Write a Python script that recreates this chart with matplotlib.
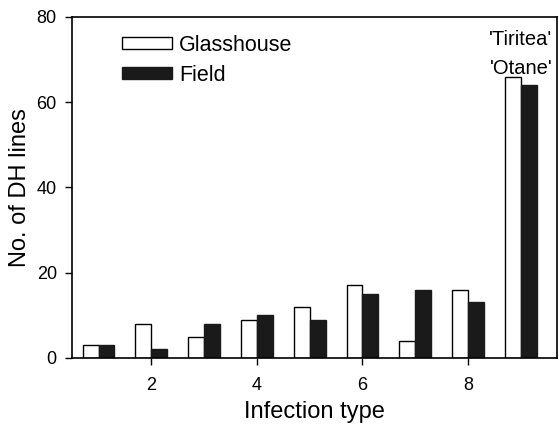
import matplotlib
matplotlib.use("Agg")
import matplotlib.pyplot as plt
import numpy as np

plt.rcParams["font.family"] = ["Liberation Sans", "DejaVu Sans"]

infection_type = [1, 2, 3, 4, 5, 6, 7, 8, 9]
glasshouse = [3, 8, 5, 9, 12, 17, 4, 16, 66]
field = [3, 2, 8, 10, 9, 15, 16, 13, 64]

fig = plt.figure(figsize=(5.59, 4.24), dpi=100)
ax = fig.add_axes([0.129, 0.156, 0.867, 0.804])

x = np.array(infection_type)
w = 0.3
ax.bar(x - w / 2, glasshouse, width=w, color="white", edgecolor="black",
       linewidth=1.0, label="Glasshouse")
ax.bar(x + w / 2, field, width=w, color="#1a1a1a", edgecolor="#1a1a1a",
       linewidth=1.0, label="Field")

# cultivar names above the last group
ax.text(9, 74.6, "'Tiritea'", ha="center", va="center", fontsize=14.5)
ax.text(9, 68.0, "'Otane'", ha="center", va="center", fontsize=14.5)

ax.set_xlim(0.5, 9.68)
ax.set_ylim(0, 80)
ax.set_xticks([2, 4, 6, 8])
ax.set_yticks([0, 20, 40, 60, 80])
ax.tick_params(labelsize=13, direction="out", length=5, width=1)
ax.tick_params(axis="x", pad=9)
ax.tick_params(axis="y", pad=6)
ax.set_xlabel("Infection type", fontsize=17, labelpad=5)
ax.set_ylabel("No. of DH lines", fontsize=17)
for s in ax.spines.values():
    s.set_linewidth(1.2)

ax.legend(loc="upper left", bbox_to_anchor=(0.063, 1.005), frameon=False,
          fontsize=15.5, handlelength=2.3, handleheight=0.5,
          labelspacing=0.42, handletextpad=0.35)

fig.savefig("out.png", dpi=100)
